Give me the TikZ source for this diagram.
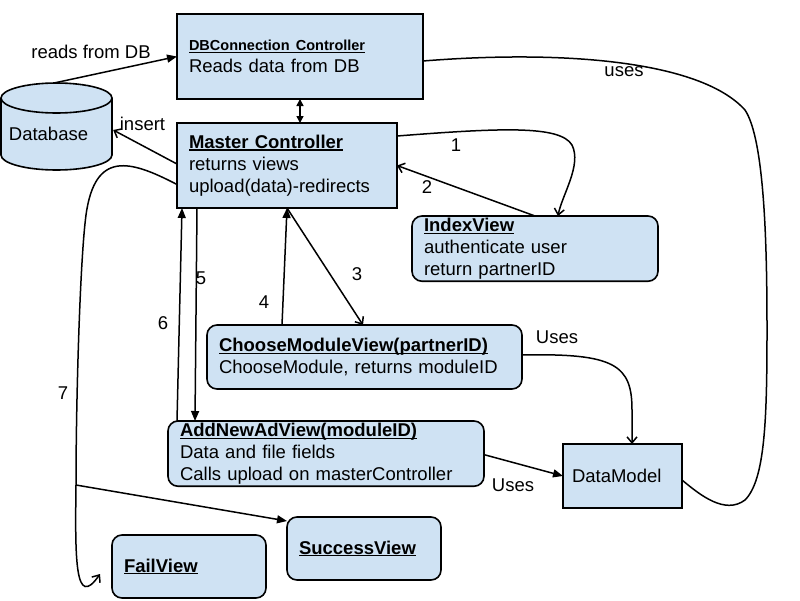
\documentclass[tikz,border=0pt]{standalone}
\usepackage{fontspec}
\setmainfont{Liberation Sans}
\usetikzlibrary{arrows.meta,calc}
\definecolor{boxfill}{HTML}{CFE2F3}
\newsavebox\ulbox
\newcommand\ulb[2][1.3pt]{\sbox\ulbox{\textbf{#2}}\rlap{\rule[-2.4pt]{\wd\ulbox}{#1}}\usebox\ulbox}
\begin{document}
\begin{tikzpicture}[x=1pt,y=-1pt,
  every node/.style={font=\fontsize{18.5}{22}\selectfont},
  boxnode/.style={draw=black, fill=boxfill, line width=1.6pt, anchor=north west, inner xsep=12pt, inner ysep=2pt, align=left, outer sep=0pt},
  roundnode/.style={boxnode, rounded corners=10pt},
  conn/.style={line width=1.5pt, black},
  fillarrow/.style={conn, -{Triangle[length=10pt,width=8pt]}},
  openarrow/.style={conn, -{Straight Barb[length=6pt,width=10pt]}},
  lab/.style={inner sep=0pt},
]
\useasboundingbox (0,0) rectangle (800,600);

% boxes
\node[boxnode, minimum width=246pt, minimum height=85pt, text width=222pt] (dbc) at (177,14)
  {{\fontsize{14.5}{20}\selectfont\ulb[1.1pt]{DBConnection Controller}}\\Reads data from DB};
\node[boxnode, minimum width=220pt, minimum height=85pt, text width=196pt] (mc) at (177,123)
  {\ulb{Master Controller}\\returns views\\upload(data)-redirects};
\node[roundnode, minimum width=246pt, minimum height=65pt, text width=222pt] (iv) at (412,216)
  {\ulb{IndexView}\\authenticate user\\return partnerID};
\node[roundnode, minimum width=315pt, minimum height=64pt, text width=291pt] (cmv) at (207,325)
  {\ulb{ChooseModuleView(partnerID)}\\ChooseModule, returns moduleID};
\node[roundnode, minimum width=316pt, minimum height=64pt, text width=292pt] (anav) at (168,421)
  {\ulb{AddNewAdView(moduleID)}\\Data and file fields\\Calls upload on masterController};
\node[boxnode, minimum width=119pt, minimum height=64pt, text width=101pt, inner xsep=9pt] (dm) at (563,444)
  {DataModel};
\node[roundnode, minimum width=154pt, minimum height=63pt, text width=130pt] (sv) at (287,517)
  {\ulb{SuccessView}};
\node[roundnode, minimum width=154pt, minimum height=63pt, text width=130pt] (fv) at (112,535)
  {\ulb{FailView}};

% database cylinder
\filldraw[fill=boxfill, draw=black, line width=1.6pt]
  (1,98) -- (1,155) arc[start angle=180, end angle=0, x radius=55.5, y radius=15]
  -- (112,98) arc[start angle=0, end angle=-180, x radius=55.5, y radius=15] -- cycle;
\draw[line width=1.6pt] (112,98) arc[start angle=0, end angle=180, x radius=55.5, y radius=15];
\node[minimum width=111pt, minimum height=87pt, inner sep=0pt] (db) at (56.5,126.5) {};
\node (dbtext) at (48.5,134) {Database};

% connectors
\draw[fillarrow] ($(db.north)+(-1.5,0)$) -- (dbc.west);
\node[lab] at (91,52) {reads from DB};

\draw[conn, {Triangle[length=7pt,width=7pt]}-{Triangle[length=7pt,width=7pt]}] (dbc.south) -- (dbc.south |- mc.north);

\draw[openarrow] ($(mc.west)+(0,-1.5)$) -- ($(db.east)+(1,3.5)$);
\node[lab] at (142.5,124) {insert};

\coordinate (fork) at (76,485);
\draw[openarrow] ($(mc.west)+(0,19)$) .. controls (130,160) and (95,150) .. (86,215)
  .. controls (80,260) and (76,400) .. (fork)
  .. controls (75,560) and (75,610) .. ($(fv.west)+(-12,7.5)$);
\node[lab] at (63,393) {7};
\draw[fillarrow] (fork) -- ($(sv.north west)+(0,4)$);

\draw[openarrow] ($(mc.east)+(0,-29.5)$) .. controls (500,128) and (560,125) .. (572,145)
  .. controls (582,165) and (562,195) .. ($(iv.north)+(23,0)$);
\node[lab] at (456,145) {1};
\draw[openarrow] (iv.north) -- (mc.east);
\node[lab] at (427,187) {2};

\draw[conn] ($(dbc.east)+(0,4.5)$) .. controls (560,50) and (700,60) .. (745,110)
  .. controls (765,140) and (767,250) .. (767,330)
  .. controls (767,420) and (765,480) .. (745,500)
  .. controls (725,515) and (700,495) .. ($(dm.east)+(0,4)$);
\node[lab] at (624,72) {uses};

\draw[openarrow] (mc.south) -- ($(cmv.north)+(-1.5,0)$);
\node[lab] at (357,274) {3};
\draw[fillarrow] ($(cmv.north west)+(75,0)$) -- (mc.south);
\node[lab] at (264,302) {4};
\draw[fillarrow] ($(mc.south west)+(20,0)$) -- ($(anav.north west)+(27,0)$);
\node[lab] at (201,278) {5};
\draw[fillarrow] ($(anav.north west)+(9,0)$) -- ($(mc.south west)+(5,0)$);
\node[lab] at (163,323) {6};

\draw[openarrow] ($(cmv.east)+(0,-2)$) .. controls (615,353) and (632,365) .. (632,410) -- ($(dm.north)+(9.5,0)$);
\node[lab] at (557,337) {Uses};

\draw[fillarrow] ($(anav.east)+(0,1)$) -- (dm.west);
\node[lab] at (513,485) {Uses};
\end{tikzpicture}
\end{document}
